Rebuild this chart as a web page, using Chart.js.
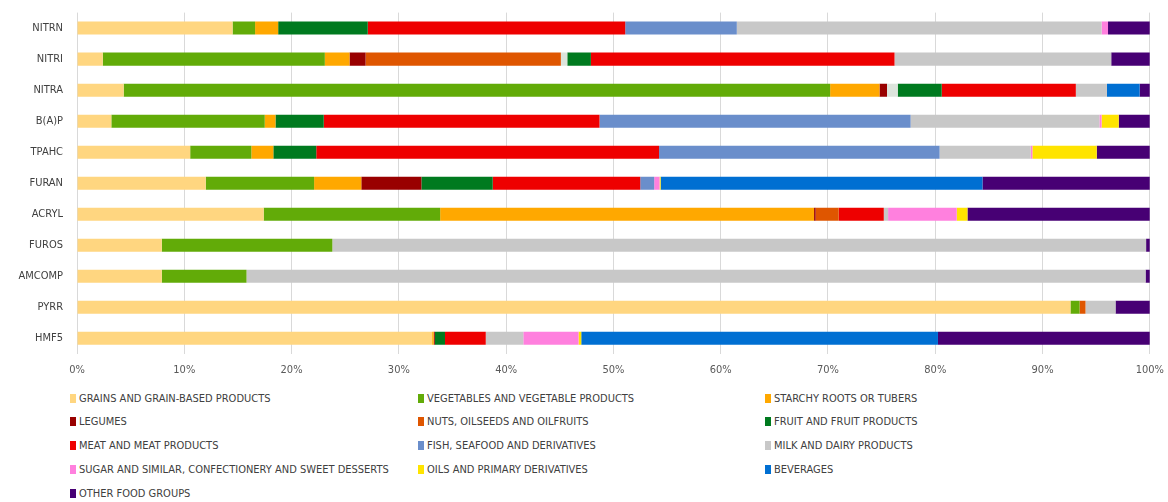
<!DOCTYPE html>
<html>
<head>
<meta charset="utf-8">
<script src="https://cdn.jsdelivr.net/npm/chart.js@4"></script>
<style>
    body { margin: 0; background: #fff; width: 1168px; height: 502px; overflow: hidden; font-family: "Liberation Sans Narrow", "DejaVu Sans Condensed", Arial, sans-serif; }
    #wrap { position: absolute; left: 0; top: 0; width: 1168px; height: 381px; }
    #legend { position: absolute; left: 70px; top: 390px; width: 1090px; display: grid; grid-template-columns: 348px 347px 340px; grid-auto-rows: 23.8px; }
    .item { display: flex; align-items: center; font-size: 11px; color: #404040; white-space: nowrap; height: 16px; }
    .box { width: 6px; height: 9px; margin-right: 3px; flex: none; }
</style>
</head>
<body>
<div id="wrap"><canvas id="chart"></canvas></div>
<div id="legend"></div>
<script>
const categories = ['NITRN', 'NITRI', 'NITRA', 'B(A)P', 'TPAHC', 'FURAN', 'ACRYL', 'FUROS', 'AMCOMP', 'PYRR', 'HMF5'];
const xTicks = [0, 10, 20, 30, 40, 50, 60, 70, 80, 90, 100];

// shares in % per food group
const grains     = [14.5, 2.4, 4.35, 3.2, 10.55, 12.0, 17.4, 7.9, 7.9, 92.6, 33.1];
const vegetables = [2.1, 20.7, 65.85, 14.3, 5.7, 10.1, 16.45, 15.9, 7.9, 0.85, 0];
const starchy    = [2.15, 2.3, 4.6, 1.0, 2.05, 4.4, 34.85, 0, 0, 0, 0.15];
const legumes    = [0, 1.5, 0.7, 0, 0, 5.6, 0.15, 0, 0, 0, 0.1];
const nuts       = [0, 18.2, 0, 0, 0, 0, 2.15, 0, 0, 0.55, 0];
const unlabelled = [0, 0.6, 1.0, 0, 0, 0, 0, 0, 0, 0, 0];
const fruit      = [8.35, 2.2, 4.1, 4.5, 4.0, 6.65, 0, 0, 0, 0, 0.95];
const meat       = [24.0, 28.3, 12.5, 25.7, 31.95, 13.75, 4.2, 0, 0, 0, 3.8];
const fish       = [10.4, 0, 0, 29.0, 26.15, 1.3, 0, 0, 0, 0, 0];
const milk       = [34.0, 20.2, 2.9, 17.6, 8.5, 0, 0.4, 75.85, 83.8, 2.8, 3.5];
const sugar      = [0.6, 0, 0, 0.2, 0.15, 0.5, 6.4, 0, 0, 0, 5.15];
const oils       = [0, 0, 0, 1.6, 6.0, 0.1, 1.0, 0, 0, 0, 0.25];
const beverages  = [0, 0, 3.05, 0, 0, 30.0, 0, 0, 0, 0, 33.25];
const other      = [3.9, 3.6, 0.95, 2.9, 4.95, 15.6, 17.0, 0.35, 0.4, 3.2, 19.75];

const series = [
    { label: 'GRAINS AND GRAIN-BASED PRODUCTS', data: grains, color: '#FFD680' },
    { label: 'VEGETABLES AND VEGETABLE PRODUCTS', data: vegetables, color: '#62AB08' },
    { label: 'STARCHY ROOTS OR TUBERS', data: starchy, color: '#FFA800' },
    { label: 'LEGUMES', data: legumes, color: '#990000' },
    { label: 'NUTS, OILSEEDS AND OILFRUITS', data: nuts, color: '#DF5600' },
    { label: '', data: unlabelled, color: '#DCE4DC' },
    { label: 'FRUIT AND FRUIT PRODUCTS', data: fruit, color: '#007A1F' },
    { label: 'MEAT AND MEAT PRODUCTS', data: meat, color: '#EE0000' },
    { label: 'FISH, SEAFOOD AND DERIVATIVES', data: fish, color: '#6A8ECB' },
    { label: 'MILK AND DAIRY PRODUCTS', data: milk, color: '#C8C8C8' },
    { label: 'SUGAR AND SIMILAR, CONFECTIONERY AND SWEET DESSERTS', data: sugar, color: '#FF80DE' },
    { label: 'OILS AND PRIMARY DERIVATIVES', data: oils, color: '#FFE400' },
    { label: 'BEVERAGES', data: beverages, color: '#006FD2' },
    { label: 'OTHER FOOD GROUPS', data: other, color: '#470074' }
];

const fontFam = '"Liberation Sans Narrow", "DejaVu Sans Condensed", Arial, sans-serif';

new Chart(document.getElementById('chart'), {
    type: 'bar',
    data: {
        labels: categories,
        datasets: series.map(s => ({
            label: s.label,
            data: s.data,
            backgroundColor: s.color,
            borderWidth: 0,
            barPercentage: 0.42,
            categoryPercentage: 1
        }))
    },
    options: {
        indexAxis: 'y',
        responsive: true,
        maintainAspectRatio: false,
        animation: false,
        layout: { padding: { top: 4, right: 18, left: 0, bottom: 0 } },
        plugins: { legend: { display: false }, tooltip: { enabled: false } },
        scales: {
            x: {
                stacked: true,
                min: 0,
                max: 100,
                afterBuildTicks: axis => { axis.ticks = xTicks.map(v => ({ value: v })); },
                ticks: { callback: v => v + '%', color: '#595959', font: { family: fontFam, size: 11 }, padding: 4, maxRotation: 0 },
                grid: { color: '#D9D9D9', tickLength: 6, tickColor: '#fff' },
                border: { display: false }
            },
            y: {
                stacked: true,
                afterFit: axis => { axis.width = 77; },
                ticks: { color: '#404040', font: { family: fontFam, size: 11 }, padding: 6 },
                grid: { display: false },
                border: { display: false }
            }
        }
    }
});

// legend in three columns, same order as the series
const legend = document.getElementById('legend');
series.filter(s => s.label).forEach(s => {
    const item = document.createElement('div');
    item.className = 'item';
    item.innerHTML = '<span class="box" style="background:' + s.color + '"></span>' + s.label;
    legend.appendChild(item);
});
</script>
</body>
</html>
